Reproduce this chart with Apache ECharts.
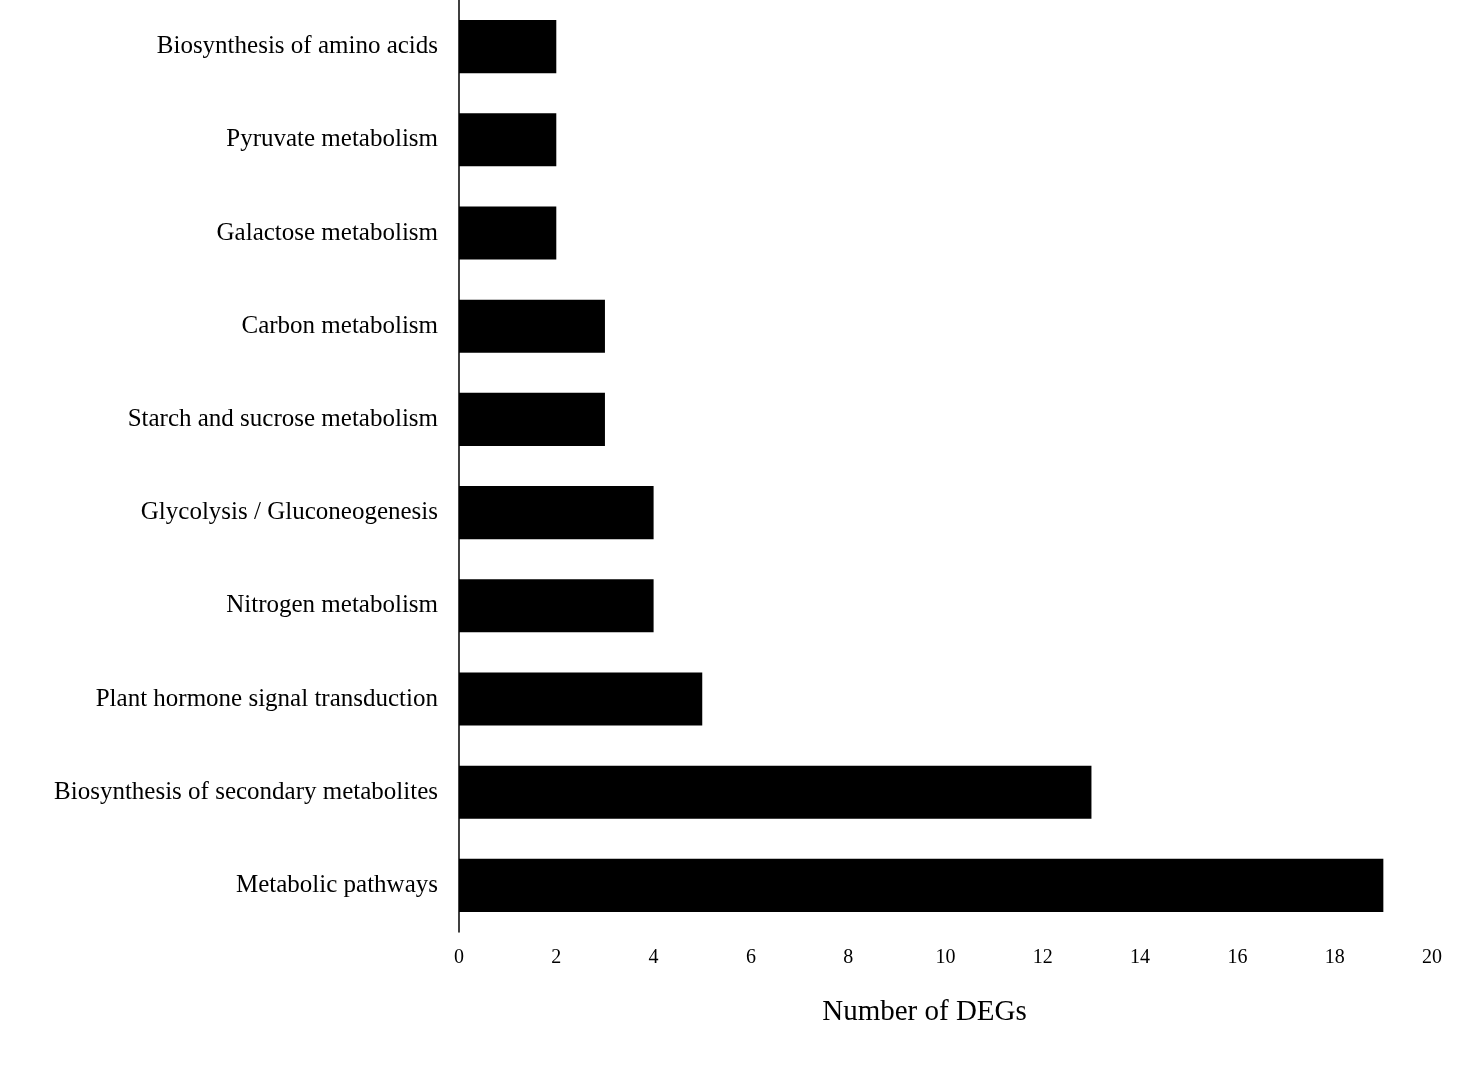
<!DOCTYPE html>
<html><head><meta charset="utf-8">
<script src="https://cdn.jsdelivr.net/npm/echarts@6/dist/echarts.min.js"></script>
<style>html,body{margin:0;padding:0;background:#fff}#c{width:1475px;height:1090px}</style>
</head><body><div id="c"></div>
<script>
const categories = ["Metabolic pathways","Biosynthesis of secondary metabolites","Plant hormone signal transduction","Nitrogen metabolism","Glycolysis / Gluconeogenesis","Starch and sucrose metabolism","Carbon metabolism","Galactose metabolism","Pyruvate metabolism","Biosynthesis of amino acids"];
const values = [19,13,5,4,4,3,3,2,2,2];
const xTicks = {min:0,max:20,interval:2};
const xName = "Number of DEGs";
const font = "'Liberation Serif','Times New Roman',serif";
const chart = echarts.init(document.getElementById('c'));
chart.setOption({
  animation:false,
  backgroundColor:'#fff',
  grid:{left:459,top:0,width:973,height:932,containLabel:false},
  xAxis:{type:'value',min:xTicks.min,max:xTicks.max,interval:xTicks.interval,
    name:xName,nameLocation:'middle',nameGap:66,
    nameTextStyle:{fontFamily:font,fontSize:29,color:'#000',padding:[0,42,0,0]},
    axisLine:{show:false},axisTick:{show:false},splitLine:{show:false},
    axisLabel:{fontFamily:font,fontSize:20,color:'#000',margin:16}},
  yAxis:{type:'category',data:categories,
    axisLine:{show:true,lineStyle:{color:'#000',width:1.5}},axisTick:{show:false},
    axisLabel:{fontFamily:font,fontSize:25,color:'#000',margin:21}},
  series:[{type:'bar',data:values,barWidth:'57%',itemStyle:{color:'#000'}}]
});
</script></body></html>
